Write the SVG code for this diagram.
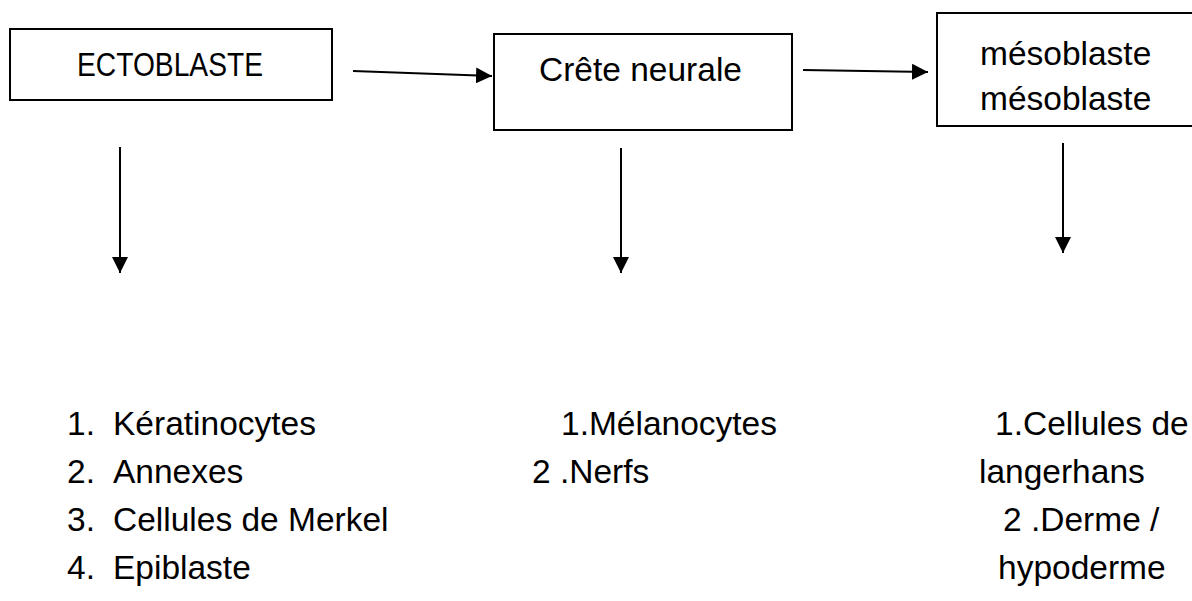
<svg xmlns="http://www.w3.org/2000/svg" width="1192" height="601" viewBox="0 0 1192 601">
<style>
.box{fill:#fff;stroke:#000;stroke-width:2}
.t{font-family:"Liberation Sans",Arial,sans-serif;font-size:33.5px;fill:#000}
.c{stroke:#000;stroke-width:2;fill:none}
</style>
<defs>
<marker id="ah" markerUnits="userSpaceOnUse" markerWidth="16" markerHeight="16" refX="16" refY="8" orient="auto">
<path d="M0,0 L16,8 L0,16 Z" fill="#000"/>
</marker>
</defs>
<rect width="1192" height="601" fill="#fff"/>
<g id="ectoblaste">
<rect class="box" x="10" y="29" width="322" height="71"/>
<text class="t" x="77" y="76" textLength="186" lengthAdjust="spacingAndGlyphs">ECTOBLASTE</text>
</g>
<g id="crete">
<rect class="box" x="494" y="34" width="298" height="96"/>
<text class="t" x="539" y="81">Crête neurale</text>
</g>
<g id="mesoblaste">
<rect class="box" x="937" y="13" width="260" height="113"/>
<text class="t" x="980" y="65">mésoblaste</text>
<text class="t" x="980" y="110">mésoblaste</text>
</g>
<g id="connectors">
<line class="c" x1="353" y1="71" x2="492" y2="76" marker-end="url(#ah)"/>
<line class="c" x1="803" y1="70" x2="928" y2="72" marker-end="url(#ah)"/>
<line class="c" x1="120" y1="147" x2="120" y2="273" marker-end="url(#ah)"/>
<line class="c" x1="621" y1="148" x2="621" y2="273" marker-end="url(#ah)"/>
<line class="c" x1="1063" y1="143" x2="1063" y2="253" marker-end="url(#ah)"/>
</g>
<g id="list-ecto">
<text class="t" x="67" y="435">1.</text><text class="t" x="113" y="435">Kératinocytes</text>
<text class="t" x="67" y="483">2.</text><text class="t" x="113" y="483">Annexes</text>
<text class="t" x="67" y="531">3.</text><text class="t" x="113" y="531">Cellules de Merkel</text>
<text class="t" x="67" y="579">4.</text><text class="t" x="113" y="579">Epiblaste</text>
</g>
<g id="list-crete">
<text class="t" x="561" y="435">1.Mélanocytes</text>
<text class="t" x="532" y="483">2 .Nerfs</text>
</g>
<g id="list-meso">
<text class="t" x="995" y="435">1.Cellules de</text>
<text class="t" x="979" y="483">langerhans</text>
<text class="t" x="1003" y="531">2 .Derme /</text>
<text class="t" x="998" y="579">hypoderme</text>
</g>
</svg>
